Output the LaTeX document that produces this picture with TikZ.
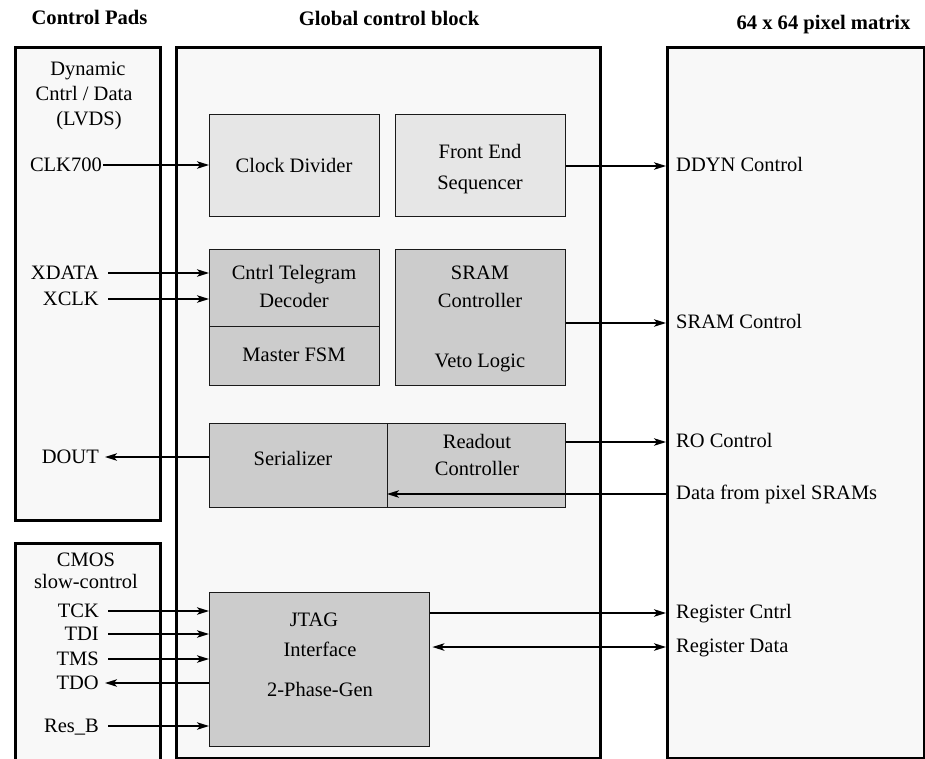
\documentclass[tikz,border=0pt]{standalone}
\usepackage{fontspec}
\setmainfont{Liberation Serif}
\usetikzlibrary{arrows.meta}
\definecolor{bgc}{HTML}{F8F8F8}
\definecolor{lightc}{HTML}{E6E6E6}
\definecolor{darkc}{HTML}{CCCCCC}
\definecolor{linec}{HTML}{1A1A1A}
\begin{document}
\begin{tikzpicture}[x=1pt,y=-1pt,
  outer/.style={draw=black, line width=3.2pt, fill=bgc, anchor=north west, inner sep=0pt},
  blockl/.style={draw=linec, line width=1.4pt, fill=lightc, anchor=north west, inner sep=0pt},
  blockd/.style={draw=linec, line width=1.4pt, fill=darkc, anchor=north west, inner sep=0pt},
  txt/.style={inner sep=0pt, text height=13.5pt, text depth=0pt, font=\fontsize{20.5}{24}\selectfont},
  ttl/.style={inner sep=0pt, text height=13.5pt, text depth=0pt, font=\fontsize{20.6}{24}\selectfont\bfseries},
  arr/.style={draw=black, line width=1.3pt, -{Stealth[length=12pt,width=7.5pt,inset=3pt]}},
  arrb/.style={draw=black, line width=1.3pt, {Stealth[length=12pt,width=7.5pt,inset=3pt]}-{Stealth[length=12pt,width=7.5pt,inset=3pt]}}
]
\useasboundingbox (0,0) rectangle (925,758);
\clip (0,0) rectangle (925,758);
\fill[white] (0,0) rectangle (925,758);

% titles
\node[ttl] (t1) at (89.5,18) {Control Pads};
\node[ttl] (t2) at (389,19) {Global control block};
\node[ttl] (t3) at (823.5,23) {64 x 64 pixel matrix};

% outer boxes
\node[outer, minimum width=145pt, minimum height=473pt] (padsA) at (14,46) {};
\node[outer, minimum width=145pt, minimum height=240pt] (padsB) at (14,542) {};
\node[outer, minimum width=424pt, minimum height=711pt] (glob) at (175,46) {};
\node[outer, minimum width=257pt, minimum height=711pt] (mat) at (666,46) {};

% inner blocks
\node[blockl, minimum width=170pt, minimum height=102pt] (cd) at (209,114) {};
\node[blockl, minimum width=170pt, minimum height=102pt] (fes) at (395,114) {};
\node[blockd, minimum width=170pt, minimum height=77pt] (ctd) at (209,249) {};
\node[blockd, minimum width=170pt, minimum height=59pt] (mfsm) at (209,326) {};
\node[blockd, minimum width=170pt, minimum height=136pt] (sram) at (395,249) {};
\node[blockd, minimum width=178pt, minimum height=84pt] (ser) at (209,423) {};
\node[blockd, minimum width=178pt, minimum height=84pt] (ro) at (387,423) {};
\node[blockd, minimum width=220pt, minimum height=154pt] (jtag) at (209,592) {};

% block texts
\node[txt] (cdt) at (294,165.5) {Clock Divider};
\node[txt] (fest1) at (480,152) {Front End};
\node[txt] (fest2) at (480,183) {Sequencer};
\node[txt] (ctdt1) at (294,273) {Cntrl Telegram};
\node[txt] (ctdt2) at (294,301) {Decoder};
\node[txt] (mfsmt) at (294,355) {Master FSM};
\node[txt] (sramt1) at (480,273) {SRAM};
\node[txt] (sramt2) at (480,301) {Controller};
\node[txt] (sramt3) at (480,361) {Veto Logic};
\node[txt] (sert) at (293,459) {Serializer};
\node[txt] (rot1) at (477,442) {Readout};
\node[txt] (rot2) at (477,469) {Controller};
\node[txt] (jt1) at (314,620) {JTAG};
\node[txt] (jt2) at (320,650) {Interface};
\node[txt] (jt3) at (320,690) {2-Phase-Gen};

% pad box headings
\node[txt] (pa1) at (88,69) {Dynamic};
\node[txt] (pa2) at (84,94) {Cntrl / Data};
\node[txt] (pa3) at (89,119) {(LVDS)};
\node[txt] (pb1) at (86,560) {CMOS};
\node[txt] (pb2) at (86,582) {slow-control};

% left labels
\node[txt, anchor=east] (clk) at (102,165) {CLK700};
\node[txt, anchor=east] (xdata) at (99,273) {XDATA};
\node[txt, anchor=east] (xclk) at (99,299) {XCLK};
\node[txt, anchor=east] (dout) at (99,457) {DOUT};
\node[txt, anchor=east] (tck) at (99,611) {TCK};
\node[txt, anchor=east] (tdi) at (99,634) {TDI};
\node[txt, anchor=east] (tms) at (99,659) {TMS};
\node[txt, anchor=east] (tdo) at (99,683) {TDO};
\node[txt, anchor=east] (resb) at (99,726) {Res\_B};

% right labels
\node[txt, anchor=west] (ddyn) at (676,165) {DDYN Control};
\node[txt, anchor=west] (sramc) at (676,322) {SRAM Control};
\node[txt, anchor=west] (roc) at (676,441) {RO Control};
\node[txt, anchor=west] (data) at (676,493) {Data from pixel SRAMs};
\node[txt, anchor=west] (regc) at (676,612) {Register Cntrl};
\node[txt, anchor=west] (regd) at (676,646) {Register Data};

% left connectors
\draw[arr] ([xshift=1pt]clk.east) -- (clk.east -| cd.west);
\draw[arr] ([xshift=9pt]xdata.east) -- (xdata.east -| ctd.west);
\draw[arr] ([xshift=9pt]xclk.east) -- (xclk.east -| ctd.west);
\draw[arr] (dout.east -| ser.west) -- ([xshift=6pt]dout.east);
\draw[arr] ([xshift=9pt]tck.east) -- (tck.east -| jtag.west);
\draw[arr] ([xshift=9pt]tdi.east) -- (tdi.east -| jtag.west);
\draw[arr] ([xshift=9pt]tms.east) -- (tms.east -| jtag.west);
\draw[arr] (tdo.east -| jtag.west) -- ([xshift=6pt]tdo.east);
\draw[arr] ([xshift=9pt]resb.east) -- (resb.east -| jtag.west);

% right connectors
\draw[arr] ([yshift=-1pt]ddyn.west -| fes.east) -- ([yshift=-1pt]ddyn.west -| mat.west);
\draw[arr] ([yshift=-1pt]sramc.west -| sram.east) -- ([yshift=-1pt]sramc.west -| mat.west);
\draw[arr] ([yshift=-1pt]roc.west -| ro.east) -- ([yshift=-1pt]roc.west -| mat.west);
\draw[arr] ([yshift=-1pt]data.west -| mat.west) -- ([yshift=-1pt]data.west -| ro.west);
\draw[arr] ([yshift=-1pt]regc.west -| jtag.east) -- ([yshift=-1pt]regc.west -| mat.west);
\draw[arrb, shorten <=2pt] ([yshift=-1pt]regd.west -| jtag.east) -- ([yshift=-1pt]regd.west -| mat.west);
\end{tikzpicture}
\end{document}
